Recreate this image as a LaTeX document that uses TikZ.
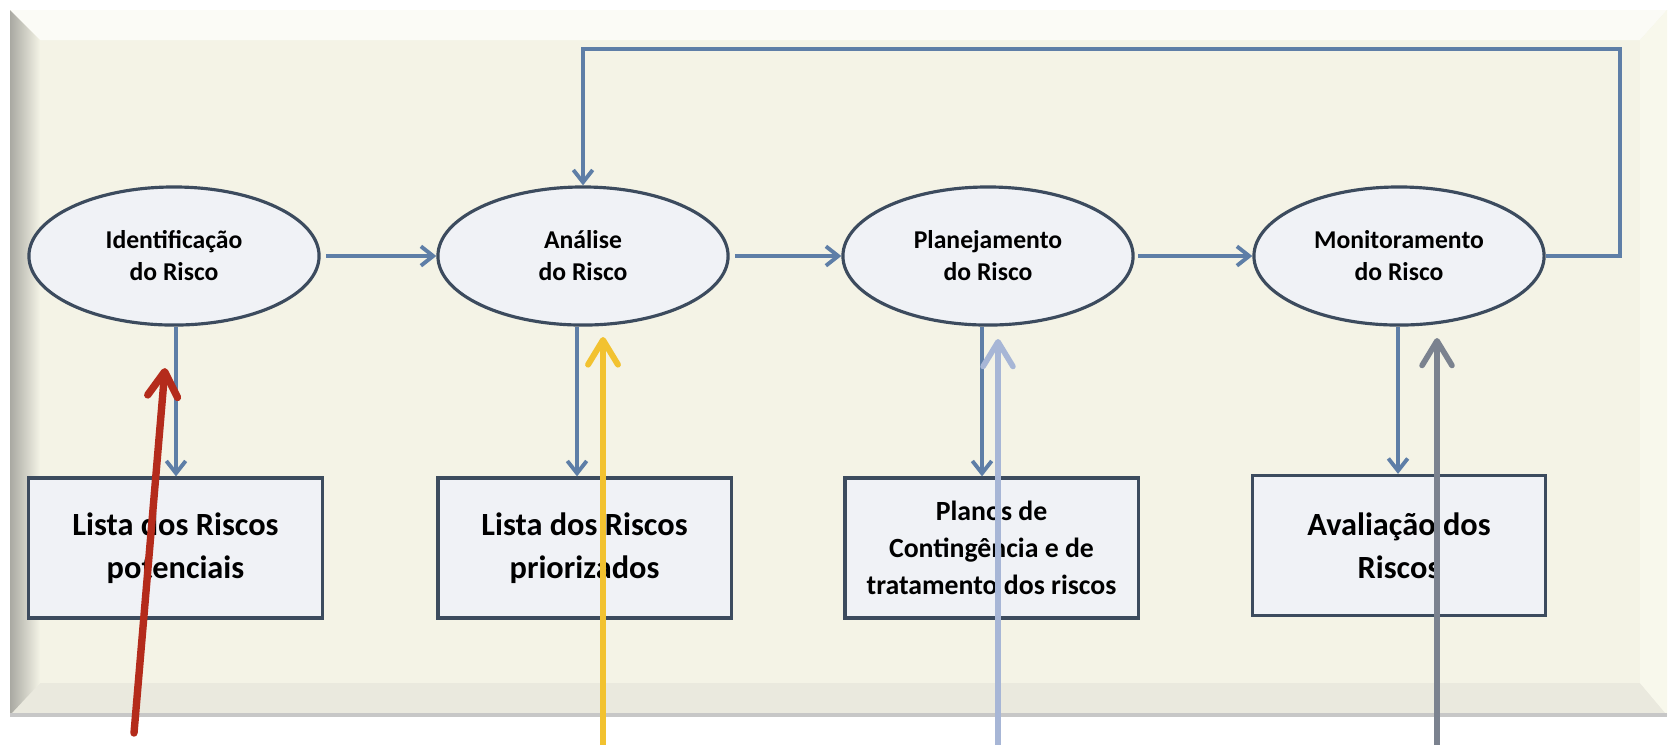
\documentclass[tikz,border=0pt]{standalone}
\usepackage{fontspec}
\setmainfont{Carlito}
\usetikzlibrary{arrows.meta,shapes.geometric}
\definecolor{panel}{HTML}{F4F3E6}
\definecolor{bevelL}{HTML}{A9A9A2}
\definecolor{bevelT}{HTML}{FBFBF6}
\definecolor{bevelB}{HTML}{EAE9DE}
\definecolor{bevelR}{HTML}{F8F8EC}
\definecolor{nodefill}{HTML}{F0F2F6}
\definecolor{nodeline}{HTML}{3C4B5E}
\definecolor{conn}{HTML}{5E7EA7}
\definecolor{redarrow}{HTML}{B42B1B}
\definecolor{yelarrow}{HTML}{F2C230}
\definecolor{bluearrow}{HTML}{A7B6D6}
\definecolor{grayarrow}{HTML}{7B828F}
\tikzset{
  proc/.style={ellipse, draw=nodeline, line width=0.9pt, fill=nodefill,
    minimum width=2.9cm, minimum height=1.38cm, inner sep=0pt, align=center,
    font=\fontsize{7.3}{9.1}\selectfont\bfseries},
  outbox/.style={rectangle, draw=nodeline, line width=0.9pt, fill=nodefill,
    minimum width=2.93cm, minimum height=1.4cm, inner sep=0pt, align=center,
    font=\fontsize{9.2}{12.2}\selectfont\bfseries},
  link/.style={draw=conn, line width=1.1pt, -{Straight Barb[length=3.5pt,width=5.5pt]}},
  hint/.style={line width=2.1pt, line cap=round, -{Straight Barb[length=7pt,width=8.5pt,line cap=round,round]}},
}
\begin{document}
\begin{tikzpicture}[x=0.01cm,y=-0.01cm]
\useasboundingbox (0,0) rectangle (1671,744);
\fill[white] (0,0) rectangle (1671,744);
% panel
\fill[panel] (10,10) rectangle (1667,715);
\fill[bevelT] (10,10) -- (1667,10) -- (1640,40) -- (40,40) -- cycle;
\fill[bevelB] (10,715) -- (40,683) -- (1640,683) -- (1667,715) -- cycle;
\fill[bevelR] (1667,10) -- (1667,715) -- (1640,683) -- (1640,40) -- cycle;
\shade[left color=bevelL, right color=panel] (10,10) -- (40,40) -- (40,683) -- (10,715) -- cycle;
\draw[black!22, line width=1.2pt] (10,715) -- (1667,715);
% process ellipses
\node[proc] (e1) at (174,256) {Identificação\\do Risco};
\node[proc] (e2) at (583,256) {Análise\\do Risco};
\node[proc] (e3) at (988,256) {Planejamento\\do Risco};
\node[proc] (e4) at (1399,256) {Monitoramento\\do Risco};
% output boxes
\node[outbox] (b1) at (175.5,548) {Lista dos Riscos\\potenciais};
\node[outbox] (b2) at (584.5,548) {Lista dos Riscos\\priorizados};
\node[outbox, font=\fontsize{7.9}{10.5}\selectfont\bfseries] (b3) at (991.5,548) {Planos de\\Contingência e de\\tratamento dos riscos};
\node[outbox] (b4) at (1399,545.5) {Avaliação dos\\Riscos};
% flow
\draw[link, shorten <=1.5pt] (e1.east) -- (e2.west);
\draw[link, shorten <=1.5pt] (e2.east) -- (e3.west);
\draw[link, shorten <=1pt] (e3.east) -- (e4.west);
\coordinate (loopR) at (1620,49);
\draw[link] (e4.east) -- (e4.east -| loopR) -- (loopR) -- (e2.north |- loopR) -- (e2.north);
% down arrows
\coordinate (d1) at (176,0);
\coordinate (d2) at (577,0);
\coordinate (d3) at (982,0);
\coordinate (d4) at (1398,0);
\draw[link] (e1.south -| d1) -- (b1.north -| d1);
\draw[link] (e2.south -| d2) -- (b2.north -| d2);
\draw[link] (e3.south -| d3) -- (b3.north -| d3);
\draw[link] (e4.south -| d4) -- (b4.north -| d4);
% highlight arrows
\coordinate (r0) at (134,733);
\coordinate (r1) at (165,368);
\coordinate (y0) at (603,748);
\coordinate (y1) at (603,337);
\coordinate (l0) at (998,748);
\coordinate (l1) at (998,339);
\coordinate (g0) at (1437,748);
\coordinate (g1) at (1437,338);
\draw[hint, redarrow] (r0) -- (r1);
\draw[hint, yelarrow, line width=1.7pt] (y0) -- (y1);
\draw[hint, bluearrow, line width=1.6pt] (l0) -- (l1);
\draw[hint, grayarrow, line width=1.6pt] (g0) -- (g1);
\end{tikzpicture}
\end{document}
